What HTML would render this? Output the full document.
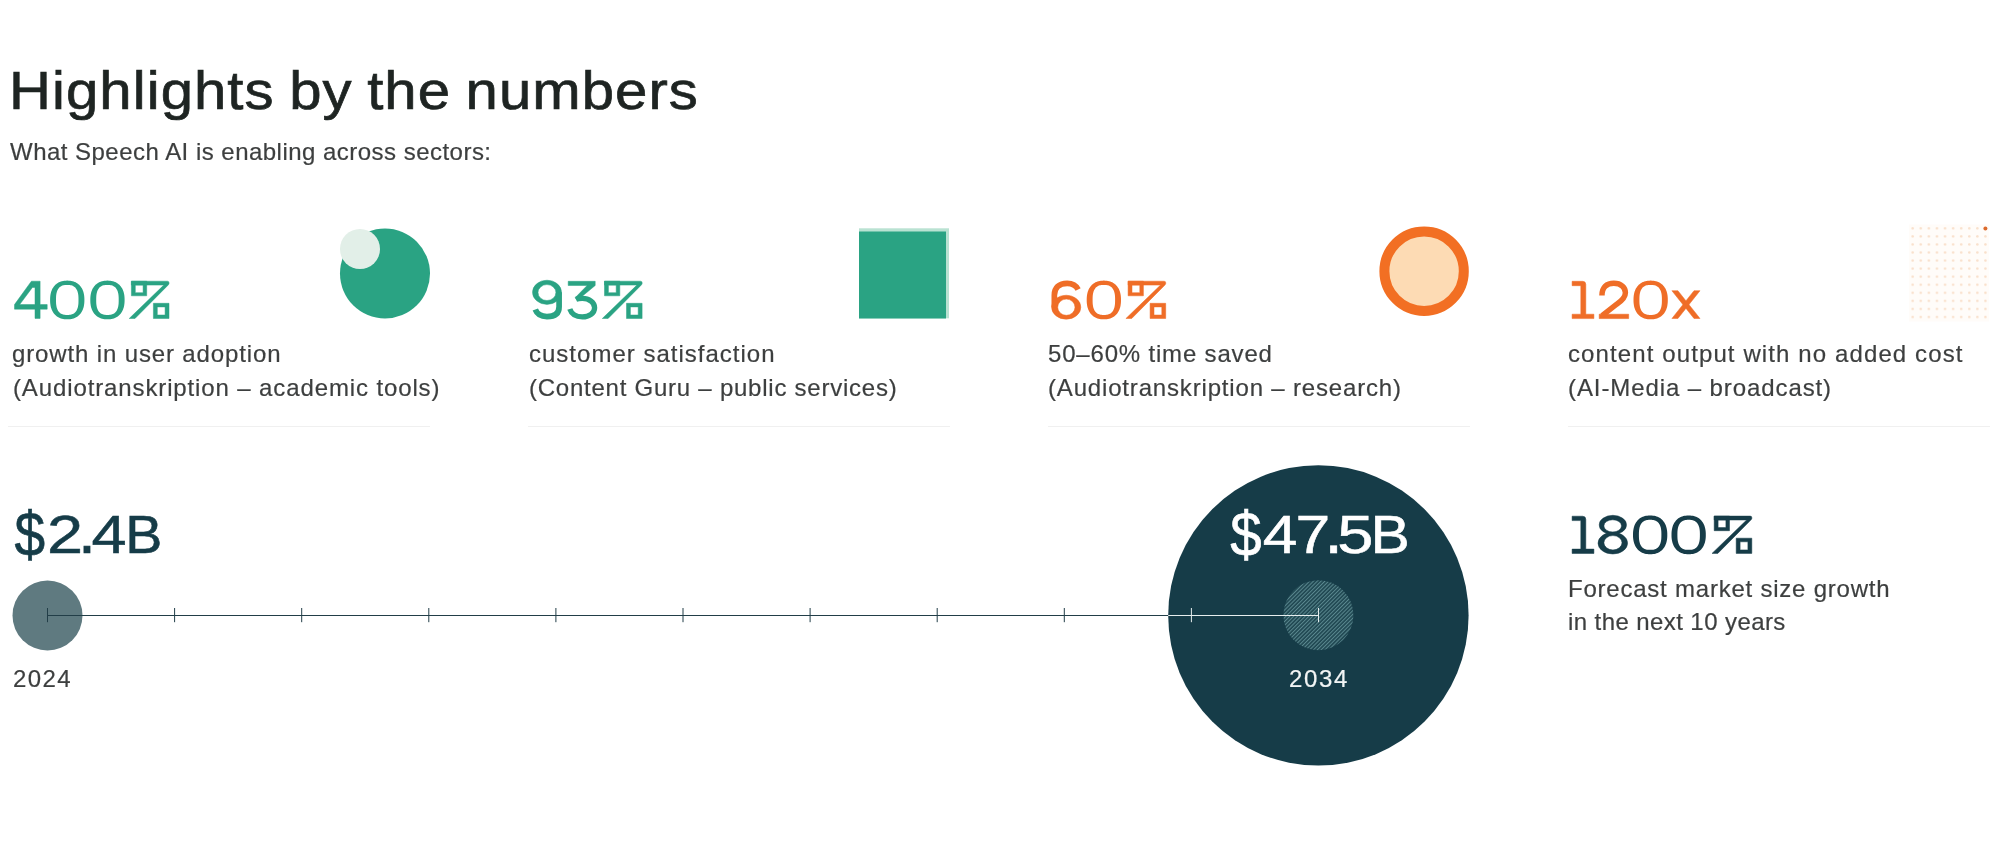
<!DOCTYPE html>
<html>
<head>
<meta charset="utf-8">
<style>
html,body{margin:0;padding:0;background:#ffffff;}
body{width:2000px;height:861px;position:relative;overflow:hidden;font-family:"Liberation Sans",sans-serif;}
.t{position:absolute;white-space:nowrap;line-height:1;will-change:transform;}
.h1{font-size:54px;color:#1e2422;letter-spacing:1px;word-spacing:-2.5px;transform:scaleX(1.075);transform-origin:0 0;-webkit-text-stroke:0.7px #1e2422;}
.sub{font-size:24px;color:#3d3f3f;letter-spacing:0.475px;-webkit-text-stroke:0.2px currentColor;}
.d{font-size:24px;color:#3d3f3f;-webkit-text-stroke:0.2px currentColor;}
.rule{position:absolute;height:1px;background:#f0f0f0;top:426px;}
svg.full{position:absolute;left:0;top:0;}
</style>
</head>
<body>
<svg class="full" width="2000" height="861" viewBox="0 0 2000 861">
  <defs>
    <pattern id="hatch" patternUnits="userSpaceOnUse" width="2.7" height="2.7" patternTransform="rotate(-45)">
      <rect x="0" y="0" width="2.7" height="2.7" fill="#204852"/>
      <rect x="0" y="0" width="2.7" height="1.0" fill="#5a888f"/>
    </pattern>
    <pattern id="dots" patternUnits="userSpaceOnUse" x="1908.7" y="224.4" width="8.08" height="8.06">
      <circle cx="4" cy="4" r="1.25" fill="#f9e0cb"/>
    </pattern>
  </defs>
  <!-- card 1 icon -->
  <circle cx="385" cy="273.5" r="45" fill="#2aa383"/>
  <circle cx="360" cy="249" r="20" fill="#e2efe8"/>
  <!-- card 2 icon -->
  <rect x="859" y="228.3" width="90" height="90" fill="#b9e2d2"/>
  <rect x="859" y="231.5" width="87" height="87" fill="#2aa383"/>
  <!-- card 3 icon -->
  <circle cx="1424.1" cy="271.2" r="39.7" fill="#fddbb4" stroke="#f26f23" stroke-width="10"/>
  <!-- card 4 dots -->
  <rect x="1909" y="224.5" width="80" height="97" fill="#fffcf9"/><rect x="1908.7" y="224.4" width="81" height="97" fill="url(#dots)"/>
  <circle cx="1985.4" cy="228.4" r="2" fill="#dc6a2c"/>

  <!-- timeline -->
  <circle cx="47.5" cy="615.5" r="35" fill="#5f7a80"/>
  <circle cx="1318.4" cy="615.4" r="150.2" fill="#163c48"/>
  <circle cx="1318.4" cy="615.2" r="35" fill="url(#hatch)"/>
  <line x1="47.5" y1="615.5" x2="1168.2" y2="615.5" stroke="#223e48" stroke-width="1"/>
  <line x1="1168.2" y1="615.5" x2="1318.5" y2="615.5" stroke="#e6eeee" stroke-width="1"/>
  <g stroke="#223e48" stroke-width="1">
    <line x1="47.5" y1="608" x2="47.5" y2="622.2"/>
    <line x1="174.6" y1="608" x2="174.6" y2="622.2"/>
    <line x1="301.7" y1="608" x2="301.7" y2="622.2"/>
    <line x1="428.8" y1="608" x2="428.8" y2="622.2"/>
    <line x1="555.9" y1="608" x2="555.9" y2="622.2"/>
    <line x1="683" y1="608" x2="683" y2="622.2"/>
    <line x1="810.1" y1="608" x2="810.1" y2="622.2"/>
    <line x1="937.2" y1="608" x2="937.2" y2="622.2"/>
    <line x1="1064.3" y1="608" x2="1064.3" y2="622.2"/>
  </g>
  <g stroke="#e6eeee" stroke-width="1">
    <line x1="1191.4" y1="608" x2="1191.4" y2="622.2"/>
    <line x1="1318.5" y1="608" x2="1318.5" y2="622.2"/>
  </g>
</svg>

<!--NUMS--><svg class="full" width="2000" height="861" viewBox="0 0 2000 861"><g transform="translate(14.5,281.2)"><path fill-rule="evenodd" fill="#2aa383" stroke="#2aa383" stroke-width="0.5" stroke-linejoin="miter" d="M16.9,0 H25.6 V23.4 H32.7 V27.95 H25.6 V37.2 H20.5 V27.95 H0 V23.4 Z M20.5,6.25 V23.4 H5.15 L17.9,6.25 Z"/></g><g transform="translate(50.1,281.2)"><path fill-rule="evenodd" fill="#2aa383" d="M34.3,18.75 L34.27,20.56 L34.17,22.04 L34.01,23.42 L33.79,24.72 L33.51,25.96 L33.16,27.14 L32.75,28.27 L32.28,29.34 L31.76,30.36 L31.17,31.32 L30.53,32.22 L29.84,33.07 L29.09,33.85 L28.29,34.57 L27.44,35.23 L26.54,35.82 L25.59,36.35 L24.59,36.81 L23.54,37.2 L22.44,37.53 L21.29,37.78 L20.07,37.96 L18.75,38.06 L17.15,38.1 L15.55,38.06 L14.23,37.96 L13.01,37.78 L11.86,37.53 L10.76,37.2 L9.71,36.81 L8.71,36.35 L7.76,35.82 L6.86,35.23 L6.01,34.57 L5.21,33.85 L4.46,33.07 L3.77,32.22 L3.13,31.32 L2.54,30.36 L2.02,29.34 L1.55,28.27 L1.14,27.14 L0.79,25.96 L0.51,24.72 L0.29,23.42 L0.13,22.04 L0.03,20.56 L0,18.75 L0.03,16.94 L0.13,15.46 L0.29,14.08 L0.51,12.78 L0.79,11.54 L1.14,10.36 L1.55,9.23 L2.02,8.16 L2.54,7.14 L3.13,6.18 L3.77,5.28 L4.46,4.43 L5.21,3.65 L6.01,2.93 L6.86,2.27 L7.76,1.68 L8.71,1.15 L9.71,0.69 L10.76,0.3 L11.86,-0.03 L13.01,-0.28 L14.23,-0.46 L15.55,-0.56 L17.15,-0.6 L18.75,-0.56 L20.07,-0.46 L21.29,-0.28 L22.44,-0.03 L23.54,0.3 L24.59,0.69 L25.59,1.15 L26.54,1.68 L27.44,2.27 L28.29,2.93 L29.09,3.65 L29.84,4.43 L30.53,5.28 L31.17,6.18 L31.76,7.14 L32.28,8.16 L32.75,9.23 L33.16,10.36 L33.51,11.54 L33.79,12.78 L34.01,14.08 L34.17,15.46 L34.27,16.94 Z M28.4,18.75 L28.38,20.67 L28.33,21.98 L28.24,23.12 L28.11,24.16 L27.95,25.12 L27.75,26.02 L27.51,26.85 L27.24,27.64 L26.94,28.38 L26.6,29.06 L26.22,29.7 L25.81,30.3 L25.37,30.84 L24.89,31.35 L24.37,31.8 L23.82,32.21 L23.23,32.57 L22.6,32.88 L21.93,33.15 L21.21,33.36 L20.43,33.53 L19.57,33.65 L18.59,33.73 L17.15,33.75 L15.71,33.73 L14.73,33.65 L13.87,33.53 L13.09,33.36 L12.37,33.15 L11.7,32.88 L11.07,32.57 L10.48,32.21 L9.93,31.8 L9.41,31.35 L8.93,30.84 L8.49,30.3 L8.08,29.7 L7.7,29.06 L7.36,28.38 L7.06,27.64 L6.79,26.85 L6.55,26.02 L6.35,25.12 L6.19,24.16 L6.06,23.12 L5.97,21.98 L5.92,20.67 L5.9,18.75 L5.92,16.83 L5.97,15.52 L6.06,14.38 L6.19,13.34 L6.35,12.38 L6.55,11.48 L6.79,10.65 L7.06,9.86 L7.36,9.12 L7.7,8.44 L8.08,7.8 L8.49,7.2 L8.93,6.66 L9.41,6.15 L9.93,5.7 L10.48,5.29 L11.07,4.93 L11.7,4.62 L12.37,4.35 L13.09,4.14 L13.87,3.97 L14.73,3.85 L15.71,3.77 L17.15,3.75 L18.59,3.77 L19.57,3.85 L20.43,3.97 L21.21,4.14 L21.93,4.35 L22.6,4.62 L23.23,4.93 L23.82,5.29 L24.37,5.7 L24.89,6.15 L25.37,6.66 L25.81,7.2 L26.22,7.8 L26.6,8.44 L26.94,9.12 L27.24,9.86 L27.51,10.65 L27.75,11.48 L27.95,12.38 L28.11,13.34 L28.24,14.38 L28.33,15.52 L28.38,16.83 Z"/></g><g transform="translate(90.3,281.2)"><path fill-rule="evenodd" fill="#2aa383" d="M34.3,18.75 L34.27,20.56 L34.17,22.04 L34.01,23.42 L33.79,24.72 L33.51,25.96 L33.16,27.14 L32.75,28.27 L32.28,29.34 L31.76,30.36 L31.17,31.32 L30.53,32.22 L29.84,33.07 L29.09,33.85 L28.29,34.57 L27.44,35.23 L26.54,35.82 L25.59,36.35 L24.59,36.81 L23.54,37.2 L22.44,37.53 L21.29,37.78 L20.07,37.96 L18.75,38.06 L17.15,38.1 L15.55,38.06 L14.23,37.96 L13.01,37.78 L11.86,37.53 L10.76,37.2 L9.71,36.81 L8.71,36.35 L7.76,35.82 L6.86,35.23 L6.01,34.57 L5.21,33.85 L4.46,33.07 L3.77,32.22 L3.13,31.32 L2.54,30.36 L2.02,29.34 L1.55,28.27 L1.14,27.14 L0.79,25.96 L0.51,24.72 L0.29,23.42 L0.13,22.04 L0.03,20.56 L0,18.75 L0.03,16.94 L0.13,15.46 L0.29,14.08 L0.51,12.78 L0.79,11.54 L1.14,10.36 L1.55,9.23 L2.02,8.16 L2.54,7.14 L3.13,6.18 L3.77,5.28 L4.46,4.43 L5.21,3.65 L6.01,2.93 L6.86,2.27 L7.76,1.68 L8.71,1.15 L9.71,0.69 L10.76,0.3 L11.86,-0.03 L13.01,-0.28 L14.23,-0.46 L15.55,-0.56 L17.15,-0.6 L18.75,-0.56 L20.07,-0.46 L21.29,-0.28 L22.44,-0.03 L23.54,0.3 L24.59,0.69 L25.59,1.15 L26.54,1.68 L27.44,2.27 L28.29,2.93 L29.09,3.65 L29.84,4.43 L30.53,5.28 L31.17,6.18 L31.76,7.14 L32.28,8.16 L32.75,9.23 L33.16,10.36 L33.51,11.54 L33.79,12.78 L34.01,14.08 L34.17,15.46 L34.27,16.94 Z M28.4,18.75 L28.38,20.67 L28.33,21.98 L28.24,23.12 L28.11,24.16 L27.95,25.12 L27.75,26.02 L27.51,26.85 L27.24,27.64 L26.94,28.38 L26.6,29.06 L26.22,29.7 L25.81,30.3 L25.37,30.84 L24.89,31.35 L24.37,31.8 L23.82,32.21 L23.23,32.57 L22.6,32.88 L21.93,33.15 L21.21,33.36 L20.43,33.53 L19.57,33.65 L18.59,33.73 L17.15,33.75 L15.71,33.73 L14.73,33.65 L13.87,33.53 L13.09,33.36 L12.37,33.15 L11.7,32.88 L11.07,32.57 L10.48,32.21 L9.93,31.8 L9.41,31.35 L8.93,30.84 L8.49,30.3 L8.08,29.7 L7.7,29.06 L7.36,28.38 L7.06,27.64 L6.79,26.85 L6.55,26.02 L6.35,25.12 L6.19,24.16 L6.06,23.12 L5.97,21.98 L5.92,20.67 L5.9,18.75 L5.92,16.83 L5.97,15.52 L6.06,14.38 L6.19,13.34 L6.35,12.38 L6.55,11.48 L6.79,10.65 L7.06,9.86 L7.36,9.12 L7.7,8.44 L8.08,7.8 L8.49,7.2 L8.93,6.66 L9.41,6.15 L9.93,5.7 L10.48,5.29 L11.07,4.93 L11.7,4.62 L12.37,4.35 L13.09,4.14 L13.87,3.97 L14.73,3.85 L15.71,3.77 L17.15,3.75 L18.59,3.77 L19.57,3.85 L20.43,3.97 L21.21,4.14 L21.93,4.35 L22.6,4.62 L23.23,4.93 L23.82,5.29 L24.37,5.7 L24.89,6.15 L25.37,6.66 L25.81,7.2 L26.22,7.8 L26.6,8.44 L26.94,9.12 L27.24,9.86 L27.51,10.65 L27.75,11.48 L27.95,12.38 L28.11,13.34 L28.24,14.38 L28.33,15.52 L28.38,16.83 Z"/></g><g transform="translate(129.2,281.2)"><path fill-rule="evenodd" fill="#2aa383" stroke="#2aa383" stroke-width="0.5" stroke-linejoin="miter" d="M2.2,0 H38.2 Q39.9,0 39.9,1.8 Q39.9,2.9 39.1,3.7 L5.8,37.3 H0 L34.6,3.9 H2.2 Z"/><path fill-rule="evenodd" fill="#2aa383" stroke="#2aa383" stroke-width="0.5" stroke-linejoin="miter" d="M2.2,0 H17.5 V14.6 H2.2 Z M6.1,3.9 V11.5 H13.9 V3.9 Z"/><path fill-rule="evenodd" fill="#2aa383" stroke="#2aa383" stroke-width="0.5" stroke-linejoin="miter" d="M24.2,22.1 H39.8 V37.3 H24.2 Z M28.1,25.7 V33.8 H35.9 V25.7 Z"/></g><g transform="translate(532.5,281.2)"><path fill-rule="evenodd" fill="#2aa383" stroke="#2aa383" stroke-width="0.5" stroke-linejoin="miter" d="M0,11.1 A14.5,12.1 0 1 0 29,11.1 A14.5,12.1 0 1 0 0,11.1 Z M5.5,11.35 A8.95,7.95 0 1 0 23.4,11.35 A8.95,7.95 0 1 0 5.5,11.35 Z"/><path fill="none" stroke="#2aa383" stroke-width="5.7" d="M26.6,11 V25.5 C26.6,33 21.5,35.4 14.5,35.4 C8.5,35.4 4.5,33 2.8,28.4"/></g><g transform="translate(567.2,281.2)"><path fill-rule="evenodd" fill="#2aa383" stroke="#2aa383" stroke-width="0.5" stroke-linejoin="miter" d="M1,0.1 H28 V4.3 L9.9,19.3 L7.9,16.6 L19.9,4.3 H1 Z"/><path fill="none" stroke="#2aa383" stroke-width="5.3" d="M8.9,18 C10.5,17.4 12.8,17.2 15.15,17.2 C22,17.2 27.4,21.3 27.4,26.45 C27.4,31.9 22,35.7 15.15,35.7 C8.8,35.7 4.2,32.5 2.6,27.8"/></g><g transform="translate(602.3,281.2)"><path fill-rule="evenodd" fill="#2aa383" stroke="#2aa383" stroke-width="0.5" stroke-linejoin="miter" d="M2.2,0 H38.2 Q39.9,0 39.9,1.8 Q39.9,2.9 39.1,3.7 L5.8,37.3 H0 L34.6,3.9 H2.2 Z"/><path fill-rule="evenodd" fill="#2aa383" stroke="#2aa383" stroke-width="0.5" stroke-linejoin="miter" d="M2.2,0 H17.5 V14.6 H2.2 Z M6.1,3.9 V11.5 H13.9 V3.9 Z"/><path fill-rule="evenodd" fill="#2aa383" stroke="#2aa383" stroke-width="0.5" stroke-linejoin="miter" d="M24.2,22.1 H39.8 V37.3 H24.2 Z M28.1,25.7 V33.8 H35.9 V25.7 Z"/></g><g transform="translate(1051.6,281.2)"><path fill-rule="evenodd" fill="#ef6d27" stroke="#ef6d27" stroke-width="0.5" stroke-linejoin="miter" d="M0,26 A14.6,12 0 1 0 29.2,26 A14.6,12 0 1 0 0,26 Z M6.1,26 A8.65,8.1 0 1 0 23.4,26 A8.65,8.1 0 1 0 6.1,26 Z"/><path fill="none" stroke="#ef6d27" stroke-width="5.7" d="M2.75,26 V14 C2.75,6.5 7.5,2.1 15.6,2.1 C21,2.1 24.8,4.8 26.5,8.3"/></g><g transform="translate(1086.7,281.2)"><path fill-rule="evenodd" fill="#ef6d27" d="M34.3,18.75 L34.27,20.56 L34.17,22.04 L34.01,23.42 L33.79,24.72 L33.51,25.96 L33.16,27.14 L32.75,28.27 L32.28,29.34 L31.76,30.36 L31.17,31.32 L30.53,32.22 L29.84,33.07 L29.09,33.85 L28.29,34.57 L27.44,35.23 L26.54,35.82 L25.59,36.35 L24.59,36.81 L23.54,37.2 L22.44,37.53 L21.29,37.78 L20.07,37.96 L18.75,38.06 L17.15,38.1 L15.55,38.06 L14.23,37.96 L13.01,37.78 L11.86,37.53 L10.76,37.2 L9.71,36.81 L8.71,36.35 L7.76,35.82 L6.86,35.23 L6.01,34.57 L5.21,33.85 L4.46,33.07 L3.77,32.22 L3.13,31.32 L2.54,30.36 L2.02,29.34 L1.55,28.27 L1.14,27.14 L0.79,25.96 L0.51,24.72 L0.29,23.42 L0.13,22.04 L0.03,20.56 L0,18.75 L0.03,16.94 L0.13,15.46 L0.29,14.08 L0.51,12.78 L0.79,11.54 L1.14,10.36 L1.55,9.23 L2.02,8.16 L2.54,7.14 L3.13,6.18 L3.77,5.28 L4.46,4.43 L5.21,3.65 L6.01,2.93 L6.86,2.27 L7.76,1.68 L8.71,1.15 L9.71,0.69 L10.76,0.3 L11.86,-0.03 L13.01,-0.28 L14.23,-0.46 L15.55,-0.56 L17.15,-0.6 L18.75,-0.56 L20.07,-0.46 L21.29,-0.28 L22.44,-0.03 L23.54,0.3 L24.59,0.69 L25.59,1.15 L26.54,1.68 L27.44,2.27 L28.29,2.93 L29.09,3.65 L29.84,4.43 L30.53,5.28 L31.17,6.18 L31.76,7.14 L32.28,8.16 L32.75,9.23 L33.16,10.36 L33.51,11.54 L33.79,12.78 L34.01,14.08 L34.17,15.46 L34.27,16.94 Z M28.4,18.75 L28.38,20.67 L28.33,21.98 L28.24,23.12 L28.11,24.16 L27.95,25.12 L27.75,26.02 L27.51,26.85 L27.24,27.64 L26.94,28.38 L26.6,29.06 L26.22,29.7 L25.81,30.3 L25.37,30.84 L24.89,31.35 L24.37,31.8 L23.82,32.21 L23.23,32.57 L22.6,32.88 L21.93,33.15 L21.21,33.36 L20.43,33.53 L19.57,33.65 L18.59,33.73 L17.15,33.75 L15.71,33.73 L14.73,33.65 L13.87,33.53 L13.09,33.36 L12.37,33.15 L11.7,32.88 L11.07,32.57 L10.48,32.21 L9.93,31.8 L9.41,31.35 L8.93,30.84 L8.49,30.3 L8.08,29.7 L7.7,29.06 L7.36,28.38 L7.06,27.64 L6.79,26.85 L6.55,26.02 L6.35,25.12 L6.19,24.16 L6.06,23.12 L5.97,21.98 L5.92,20.67 L5.9,18.75 L5.92,16.83 L5.97,15.52 L6.06,14.38 L6.19,13.34 L6.35,12.38 L6.55,11.48 L6.79,10.65 L7.06,9.86 L7.36,9.12 L7.7,8.44 L8.08,7.8 L8.49,7.2 L8.93,6.66 L9.41,6.15 L9.93,5.7 L10.48,5.29 L11.07,4.93 L11.7,4.62 L12.37,4.35 L13.09,4.14 L13.87,3.97 L14.73,3.85 L15.71,3.77 L17.15,3.75 L18.59,3.77 L19.57,3.85 L20.43,3.97 L21.21,4.14 L21.93,4.35 L22.6,4.62 L23.23,4.93 L23.82,5.29 L24.37,5.7 L24.89,6.15 L25.37,6.66 L25.81,7.2 L26.22,7.8 L26.6,8.44 L26.94,9.12 L27.24,9.86 L27.51,10.65 L27.75,11.48 L27.95,12.38 L28.11,13.34 L28.24,14.38 L28.33,15.52 L28.38,16.83 Z"/></g><g transform="translate(1125.9,281.2)"><path fill-rule="evenodd" fill="#ef6d27" stroke="#ef6d27" stroke-width="0.5" stroke-linejoin="miter" d="M2.2,0 H38.2 Q39.9,0 39.9,1.8 Q39.9,2.9 39.1,3.7 L5.8,37.3 H0 L34.6,3.9 H2.2 Z"/><path fill-rule="evenodd" fill="#ef6d27" stroke="#ef6d27" stroke-width="0.5" stroke-linejoin="miter" d="M2.2,0 H17.5 V14.6 H2.2 Z M6.1,3.9 V11.5 H13.9 V3.9 Z"/><path fill-rule="evenodd" fill="#ef6d27" stroke="#ef6d27" stroke-width="0.5" stroke-linejoin="miter" d="M24.2,22.1 H39.8 V37.3 H24.2 Z M28.1,25.7 V33.8 H35.9 V25.7 Z"/></g><g transform="translate(1572.1,281.2)"><path fill-rule="evenodd" fill="#ef6d27" stroke="#ef6d27" stroke-width="0.5" stroke-linejoin="miter" d="M0,0.1 H10.5 Q13.7,0.1 13.7,3.3 V33 H21.8 V37.4 H0 V33 H8.7 V4.5 H0 Z"/></g><g transform="translate(1599.2,281.2)"><path fill-rule="evenodd" fill="#ef6d27" stroke="#ef6d27" stroke-width="0.5" stroke-linejoin="miter" d="M0,33 H29.5 V37.4 H0 Z"/><path fill="none" stroke="#ef6d27" stroke-width="5.5" d="M2.75,14.3 C2.75,6 7.5,2.1 14.6,2.1 C22,2.1 26.2,6.3 26.2,11.5 C26.2,16.5 22.5,19.6 17.5,23 L2.9,34.5"/></g><g transform="translate(1633.5,281.2)"><path fill-rule="evenodd" fill="#ef6d27" d="M34.3,18.75 L34.27,20.56 L34.17,22.04 L34.01,23.42 L33.79,24.72 L33.51,25.96 L33.16,27.14 L32.75,28.27 L32.28,29.34 L31.76,30.36 L31.17,31.32 L30.53,32.22 L29.84,33.07 L29.09,33.85 L28.29,34.57 L27.44,35.23 L26.54,35.82 L25.59,36.35 L24.59,36.81 L23.54,37.2 L22.44,37.53 L21.29,37.78 L20.07,37.96 L18.75,38.06 L17.15,38.1 L15.55,38.06 L14.23,37.96 L13.01,37.78 L11.86,37.53 L10.76,37.2 L9.71,36.81 L8.71,36.35 L7.76,35.82 L6.86,35.23 L6.01,34.57 L5.21,33.85 L4.46,33.07 L3.77,32.22 L3.13,31.32 L2.54,30.36 L2.02,29.34 L1.55,28.27 L1.14,27.14 L0.79,25.96 L0.51,24.72 L0.29,23.42 L0.13,22.04 L0.03,20.56 L0,18.75 L0.03,16.94 L0.13,15.46 L0.29,14.08 L0.51,12.78 L0.79,11.54 L1.14,10.36 L1.55,9.23 L2.02,8.16 L2.54,7.14 L3.13,6.18 L3.77,5.28 L4.46,4.43 L5.21,3.65 L6.01,2.93 L6.86,2.27 L7.76,1.68 L8.71,1.15 L9.71,0.69 L10.76,0.3 L11.86,-0.03 L13.01,-0.28 L14.23,-0.46 L15.55,-0.56 L17.15,-0.6 L18.75,-0.56 L20.07,-0.46 L21.29,-0.28 L22.44,-0.03 L23.54,0.3 L24.59,0.69 L25.59,1.15 L26.54,1.68 L27.44,2.27 L28.29,2.93 L29.09,3.65 L29.84,4.43 L30.53,5.28 L31.17,6.18 L31.76,7.14 L32.28,8.16 L32.75,9.23 L33.16,10.36 L33.51,11.54 L33.79,12.78 L34.01,14.08 L34.17,15.46 L34.27,16.94 Z M28.4,18.75 L28.38,20.67 L28.33,21.98 L28.24,23.12 L28.11,24.16 L27.95,25.12 L27.75,26.02 L27.51,26.85 L27.24,27.64 L26.94,28.38 L26.6,29.06 L26.22,29.7 L25.81,30.3 L25.37,30.84 L24.89,31.35 L24.37,31.8 L23.82,32.21 L23.23,32.57 L22.6,32.88 L21.93,33.15 L21.21,33.36 L20.43,33.53 L19.57,33.65 L18.59,33.73 L17.15,33.75 L15.71,33.73 L14.73,33.65 L13.87,33.53 L13.09,33.36 L12.37,33.15 L11.7,32.88 L11.07,32.57 L10.48,32.21 L9.93,31.8 L9.41,31.35 L8.93,30.84 L8.49,30.3 L8.08,29.7 L7.7,29.06 L7.36,28.38 L7.06,27.64 L6.79,26.85 L6.55,26.02 L6.35,25.12 L6.19,24.16 L6.06,23.12 L5.97,21.98 L5.92,20.67 L5.9,18.75 L5.92,16.83 L5.97,15.52 L6.06,14.38 L6.19,13.34 L6.35,12.38 L6.55,11.48 L6.79,10.65 L7.06,9.86 L7.36,9.12 L7.7,8.44 L8.08,7.8 L8.49,7.2 L8.93,6.66 L9.41,6.15 L9.93,5.7 L10.48,5.29 L11.07,4.93 L11.7,4.62 L12.37,4.35 L13.09,4.14 L13.87,3.97 L14.73,3.85 L15.71,3.77 L17.15,3.75 L18.59,3.77 L19.57,3.85 L20.43,3.97 L21.21,4.14 L21.93,4.35 L22.6,4.62 L23.23,4.93 L23.82,5.29 L24.37,5.7 L24.89,6.15 L25.37,6.66 L25.81,7.2 L26.22,7.8 L26.6,8.44 L26.94,9.12 L27.24,9.86 L27.51,10.65 L27.75,11.48 L27.95,12.38 L28.11,13.34 L28.24,14.38 L28.33,15.52 L28.38,16.83 Z"/></g><g transform="translate(1671.9,281.2)"><path fill-rule="evenodd" fill="#ef6d27" stroke="#ef6d27" stroke-width="0.5" stroke-linejoin="miter" d="M0,9.5 H6 L28.1,37.3 H22.1 Z"/><path fill-rule="evenodd" fill="#ef6d27" stroke="#ef6d27" stroke-width="0.5" stroke-linejoin="miter" d="M22.1,9.5 H28.1 L6,37.3 H0 Z"/></g><g transform="translate(1572.1,516.1)"><path fill-rule="evenodd" fill="#163c48" stroke="#163c48" stroke-width="0.5" stroke-linejoin="miter" d="M0,0.1 H10.5 Q13.7,0.1 13.7,3.3 V33 H21.8 V37.4 H0 V33 H8.7 V4.5 H0 Z"/></g><g transform="translate(1598,516.1)"><path fill-rule="evenodd" fill="#163c48" stroke="#163c48" stroke-width="0.5" stroke-linejoin="miter" d="M1.2,8.8 A13.65,9.6 0 1 0 28.5,8.8 A13.65,9.6 0 1 0 1.2,8.8 Z M5.9,9.8 A8.8,6.1 0 1 0 23.5,9.8 A8.8,6.1 0 1 0 5.9,9.8 Z"/><path fill-rule="evenodd" fill="#163c48" stroke="#163c48" stroke-width="0.5" stroke-linejoin="miter" d="M0,27.05 A14.8,10.85 0 1 0 29.6,27.05 A14.8,10.85 0 1 0 0,27.05 Z M5.9,26.65 A9.05,7.15 0 1 0 24,26.65 A9.05,7.15 0 1 0 5.9,26.65 Z"/></g><g transform="translate(1633,516.1)"><path fill-rule="evenodd" fill="#163c48" d="M34.3,18.75 L34.27,20.56 L34.17,22.04 L34.01,23.42 L33.79,24.72 L33.51,25.96 L33.16,27.14 L32.75,28.27 L32.28,29.34 L31.76,30.36 L31.17,31.32 L30.53,32.22 L29.84,33.07 L29.09,33.85 L28.29,34.57 L27.44,35.23 L26.54,35.82 L25.59,36.35 L24.59,36.81 L23.54,37.2 L22.44,37.53 L21.29,37.78 L20.07,37.96 L18.75,38.06 L17.15,38.1 L15.55,38.06 L14.23,37.96 L13.01,37.78 L11.86,37.53 L10.76,37.2 L9.71,36.81 L8.71,36.35 L7.76,35.82 L6.86,35.23 L6.01,34.57 L5.21,33.85 L4.46,33.07 L3.77,32.22 L3.13,31.32 L2.54,30.36 L2.02,29.34 L1.55,28.27 L1.14,27.14 L0.79,25.96 L0.51,24.72 L0.29,23.42 L0.13,22.04 L0.03,20.56 L0,18.75 L0.03,16.94 L0.13,15.46 L0.29,14.08 L0.51,12.78 L0.79,11.54 L1.14,10.36 L1.55,9.23 L2.02,8.16 L2.54,7.14 L3.13,6.18 L3.77,5.28 L4.46,4.43 L5.21,3.65 L6.01,2.93 L6.86,2.27 L7.76,1.68 L8.71,1.15 L9.71,0.69 L10.76,0.3 L11.86,-0.03 L13.01,-0.28 L14.23,-0.46 L15.55,-0.56 L17.15,-0.6 L18.75,-0.56 L20.07,-0.46 L21.29,-0.28 L22.44,-0.03 L23.54,0.3 L24.59,0.69 L25.59,1.15 L26.54,1.68 L27.44,2.27 L28.29,2.93 L29.09,3.65 L29.84,4.43 L30.53,5.28 L31.17,6.18 L31.76,7.14 L32.28,8.16 L32.75,9.23 L33.16,10.36 L33.51,11.54 L33.79,12.78 L34.01,14.08 L34.17,15.46 L34.27,16.94 Z M28.4,18.75 L28.38,20.67 L28.33,21.98 L28.24,23.12 L28.11,24.16 L27.95,25.12 L27.75,26.02 L27.51,26.85 L27.24,27.64 L26.94,28.38 L26.6,29.06 L26.22,29.7 L25.81,30.3 L25.37,30.84 L24.89,31.35 L24.37,31.8 L23.82,32.21 L23.23,32.57 L22.6,32.88 L21.93,33.15 L21.21,33.36 L20.43,33.53 L19.57,33.65 L18.59,33.73 L17.15,33.75 L15.71,33.73 L14.73,33.65 L13.87,33.53 L13.09,33.36 L12.37,33.15 L11.7,32.88 L11.07,32.57 L10.48,32.21 L9.93,31.8 L9.41,31.35 L8.93,30.84 L8.49,30.3 L8.08,29.7 L7.7,29.06 L7.36,28.38 L7.06,27.64 L6.79,26.85 L6.55,26.02 L6.35,25.12 L6.19,24.16 L6.06,23.12 L5.97,21.98 L5.92,20.67 L5.9,18.75 L5.92,16.83 L5.97,15.52 L6.06,14.38 L6.19,13.34 L6.35,12.38 L6.55,11.48 L6.79,10.65 L7.06,9.86 L7.36,9.12 L7.7,8.44 L8.08,7.8 L8.49,7.2 L8.93,6.66 L9.41,6.15 L9.93,5.7 L10.48,5.29 L11.07,4.93 L11.7,4.62 L12.37,4.35 L13.09,4.14 L13.87,3.97 L14.73,3.85 L15.71,3.77 L17.15,3.75 L18.59,3.77 L19.57,3.85 L20.43,3.97 L21.21,4.14 L21.93,4.35 L22.6,4.62 L23.23,4.93 L23.82,5.29 L24.37,5.7 L24.89,6.15 L25.37,6.66 L25.81,7.2 L26.22,7.8 L26.6,8.44 L26.94,9.12 L27.24,9.86 L27.51,10.65 L27.75,11.48 L27.95,12.38 L28.11,13.34 L28.24,14.38 L28.33,15.52 L28.38,16.83 Z"/></g><g transform="translate(1671.5,516.1)"><path fill-rule="evenodd" fill="#163c48" d="M34.3,18.75 L34.27,20.56 L34.17,22.04 L34.01,23.42 L33.79,24.72 L33.51,25.96 L33.16,27.14 L32.75,28.27 L32.28,29.34 L31.76,30.36 L31.17,31.32 L30.53,32.22 L29.84,33.07 L29.09,33.85 L28.29,34.57 L27.44,35.23 L26.54,35.82 L25.59,36.35 L24.59,36.81 L23.54,37.2 L22.44,37.53 L21.29,37.78 L20.07,37.96 L18.75,38.06 L17.15,38.1 L15.55,38.06 L14.23,37.96 L13.01,37.78 L11.86,37.53 L10.76,37.2 L9.71,36.81 L8.71,36.35 L7.76,35.82 L6.86,35.23 L6.01,34.57 L5.21,33.85 L4.46,33.07 L3.77,32.22 L3.13,31.32 L2.54,30.36 L2.02,29.34 L1.55,28.27 L1.14,27.14 L0.79,25.96 L0.51,24.72 L0.29,23.42 L0.13,22.04 L0.03,20.56 L0,18.75 L0.03,16.94 L0.13,15.46 L0.29,14.08 L0.51,12.78 L0.79,11.54 L1.14,10.36 L1.55,9.23 L2.02,8.16 L2.54,7.14 L3.13,6.18 L3.77,5.28 L4.46,4.43 L5.21,3.65 L6.01,2.93 L6.86,2.27 L7.76,1.68 L8.71,1.15 L9.71,0.69 L10.76,0.3 L11.86,-0.03 L13.01,-0.28 L14.23,-0.46 L15.55,-0.56 L17.15,-0.6 L18.75,-0.56 L20.07,-0.46 L21.29,-0.28 L22.44,-0.03 L23.54,0.3 L24.59,0.69 L25.59,1.15 L26.54,1.68 L27.44,2.27 L28.29,2.93 L29.09,3.65 L29.84,4.43 L30.53,5.28 L31.17,6.18 L31.76,7.14 L32.28,8.16 L32.75,9.23 L33.16,10.36 L33.51,11.54 L33.79,12.78 L34.01,14.08 L34.17,15.46 L34.27,16.94 Z M28.4,18.75 L28.38,20.67 L28.33,21.98 L28.24,23.12 L28.11,24.16 L27.95,25.12 L27.75,26.02 L27.51,26.85 L27.24,27.64 L26.94,28.38 L26.6,29.06 L26.22,29.7 L25.81,30.3 L25.37,30.84 L24.89,31.35 L24.37,31.8 L23.82,32.21 L23.23,32.57 L22.6,32.88 L21.93,33.15 L21.21,33.36 L20.43,33.53 L19.57,33.65 L18.59,33.73 L17.15,33.75 L15.71,33.73 L14.73,33.65 L13.87,33.53 L13.09,33.36 L12.37,33.15 L11.7,32.88 L11.07,32.57 L10.48,32.21 L9.93,31.8 L9.41,31.35 L8.93,30.84 L8.49,30.3 L8.08,29.7 L7.7,29.06 L7.36,28.38 L7.06,27.64 L6.79,26.85 L6.55,26.02 L6.35,25.12 L6.19,24.16 L6.06,23.12 L5.97,21.98 L5.92,20.67 L5.9,18.75 L5.92,16.83 L5.97,15.52 L6.06,14.38 L6.19,13.34 L6.35,12.38 L6.55,11.48 L6.79,10.65 L7.06,9.86 L7.36,9.12 L7.7,8.44 L8.08,7.8 L8.49,7.2 L8.93,6.66 L9.41,6.15 L9.93,5.7 L10.48,5.29 L11.07,4.93 L11.7,4.62 L12.37,4.35 L13.09,4.14 L13.87,3.97 L14.73,3.85 L15.71,3.77 L17.15,3.75 L18.59,3.77 L19.57,3.85 L20.43,3.97 L21.21,4.14 L21.93,4.35 L22.6,4.62 L23.23,4.93 L23.82,5.29 L24.37,5.7 L24.89,6.15 L25.37,6.66 L25.81,7.2 L26.22,7.8 L26.6,8.44 L26.94,9.12 L27.24,9.86 L27.51,10.65 L27.75,11.48 L27.95,12.38 L28.11,13.34 L28.24,14.38 L28.33,15.52 L28.38,16.83 Z"/></g><g transform="translate(1712,516.1)"><path fill-rule="evenodd" fill="#163c48" stroke="#163c48" stroke-width="0.5" stroke-linejoin="miter" d="M2.2,0 H38.2 Q39.9,0 39.9,1.8 Q39.9,2.9 39.1,3.7 L5.8,37.3 H0 L34.6,3.9 H2.2 Z"/><path fill-rule="evenodd" fill="#163c48" stroke="#163c48" stroke-width="0.5" stroke-linejoin="miter" d="M2.2,0 H17.5 V14.6 H2.2 Z M6.1,3.9 V11.5 H13.9 V3.9 Z"/><path fill-rule="evenodd" fill="#163c48" stroke="#163c48" stroke-width="0.5" stroke-linejoin="miter" d="M24.2,22.1 H39.8 V37.3 H24.2 Z M28.1,25.7 V33.8 H35.9 V25.7 Z"/></g><text transform="translate(14.56,555.5) scale(1.0181,1.1630)" font-family="Liberation Sans" font-size="54" fill="#163c48" stroke="#163c48" stroke-width="0.589">$</text><text transform="translate(46.99,553.1) scale(1.2012,1.0000)" font-family="Liberation Sans" font-size="54" fill="#163c48" stroke="#163c48" stroke-width="0.500">2</text><text transform="translate(78.1,553.1) scale(1.1960,1.1960)" font-family="Liberation Sans" font-size="54" fill="#163c48" stroke="#163c48" stroke-width="0.502">.</text><text transform="translate(91.55,553.1) scale(1.1686,1.0000)" font-family="Liberation Sans" font-size="54" fill="#163c48" stroke="#163c48" stroke-width="0.513">4</text><text transform="translate(125.34,553.1) scale(1.0299,1.0000)" font-family="Liberation Sans" font-size="54" fill="#163c48" stroke="#163c48" stroke-width="0.583">B</text><text transform="translate(1230.19,555.8) scale(1.0461,1.1630)" font-family="Liberation Sans" font-size="54" fill="#ffffff" stroke="#ffffff" stroke-width="0.574">$</text><text transform="translate(1262.87,553.4) scale(1.1539,1.0000)" font-family="Liberation Sans" font-size="54" fill="#ffffff" stroke="#ffffff" stroke-width="0.520">4</text><text transform="translate(1295.6,553.4) scale(1.1569,1.0000)" font-family="Liberation Sans" font-size="54" fill="#ffffff" stroke="#ffffff" stroke-width="0.519">7</text><text transform="translate(1324.16,553.4) scale(1.2447,1.2447)" font-family="Liberation Sans" font-size="54" fill="#ffffff" stroke="#ffffff" stroke-width="0.482">.</text><text transform="translate(1337.19,553.4) scale(1.2069,1.0000)" font-family="Liberation Sans" font-size="54" fill="#ffffff" stroke="#ffffff" stroke-width="0.497">5</text><text transform="translate(1370.46,553.4) scale(1.0926,1.0000)" font-family="Liberation Sans" font-size="54" fill="#ffffff" stroke="#ffffff" stroke-width="0.549">B</text></svg><!--/NUMS-->
<div class="t h1" style="left:9.1px;top:63.1px;">Highlights by the numbers</div>
<div class="t sub" style="left:9.8px;top:139.5px;">What Speech AI is enabling across sectors:</div>

<div class="t d" style="left:12.4px;top:341.5px;letter-spacing:0.864px;">growth in user adoption</div>
<div class="t d" style="left:12.8px;top:375.7px;letter-spacing:0.878px;">(Audiotranskription – academic tools)</div>
<div class="t d" style="left:529.2px;top:341.5px;letter-spacing:1.005px;">customer satisfaction</div>
<div class="t d" style="left:529.2px;top:375.7px;letter-spacing:0.758px;">(Content Guru – public services)</div>
<div class="t d" style="left:1048px;top:341.5px;letter-spacing:0.819px;">50–60% time saved</div>
<div class="t d" style="left:1048px;top:375.7px;letter-spacing:0.827px;">(Audiotranskription – research)</div>
<div class="t d" style="left:1568px;top:341.5px;letter-spacing:1.109px;">content output with no added cost</div>
<div class="t d" style="left:1568px;top:375.7px;letter-spacing:0.905px;">(AI-Media – broadcast)</div>

<div class="rule" style="left:8px;width:422px;"></div>
<div class="rule" style="left:528px;width:422px;"></div>
<div class="rule" style="left:1048px;width:422px;"></div>
<div class="rule" style="left:1568px;width:422px;"></div>


<div class="t d" style="left:1568.2px;top:576.5px;letter-spacing:0.775px;">Forecast market size growth</div>
<div class="t d" style="left:1568.2px;top:610.3px;letter-spacing:0.413px;">in the next 10 years</div>

<div class="t d" style="left:13.3px;top:666.7px;letter-spacing:1.43px;">2024</div>
<div class="t d" style="left:1289px;top:667px;letter-spacing:1.67px;color:#f2f5f5;">2034</div>

</body>
</html>
